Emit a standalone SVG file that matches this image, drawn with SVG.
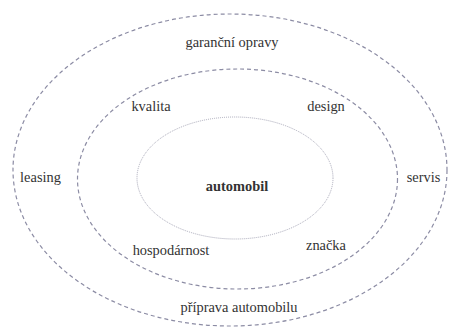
<svg xmlns="http://www.w3.org/2000/svg" width="452" height="329" viewBox="0 0 452 329">
<style>
.dash{fill:none;stroke:#8c8ca4;stroke-width:1.2;stroke-dasharray:4 3}
.dot{fill:none;stroke:#a8a8b8;stroke-width:1;stroke-dasharray:1 1}
text{font-family:'Liberation Serif','DejaVu Serif',serif;font-size:14.4px;fill:#333;text-anchor:middle}
.b{font-weight:bold}
</style>
<rect width="452" height="329" fill="#fff"/>
<g id="connectors"></g>
<g id="outer"><ellipse class="dash" cx="230" cy="170" rx="217" ry="156"/></g>
<g id="middle"><ellipse class="dash" cx="237.5" cy="179" rx="160" ry="110"/></g>
<g id="inner"><ellipse class="dot" cx="235" cy="178" rx="98" ry="61"/></g>
<g id="n-garancni"><text x="232" y="47">garanční opravy</text></g>
<g id="n-kvalita"><text x="151" y="111">kvalita</text></g>
<g id="n-design"><text x="326" y="111">design</text></g>
<g id="n-leasing"><text x="40.5" y="182">leasing</text></g>
<g id="n-servis"><text x="423.5" y="182">servis</text></g>
<g id="n-automobil"><text class="b" x="237" y="191">automobil</text></g>
<g id="n-hospodarnost"><text x="171" y="255">hospodárnost</text></g>
<g id="n-znacka"><text x="326" y="250">značka</text></g>
<g id="n-priprava"><text x="239" y="312">příprava automobilu</text></g>
</svg>
